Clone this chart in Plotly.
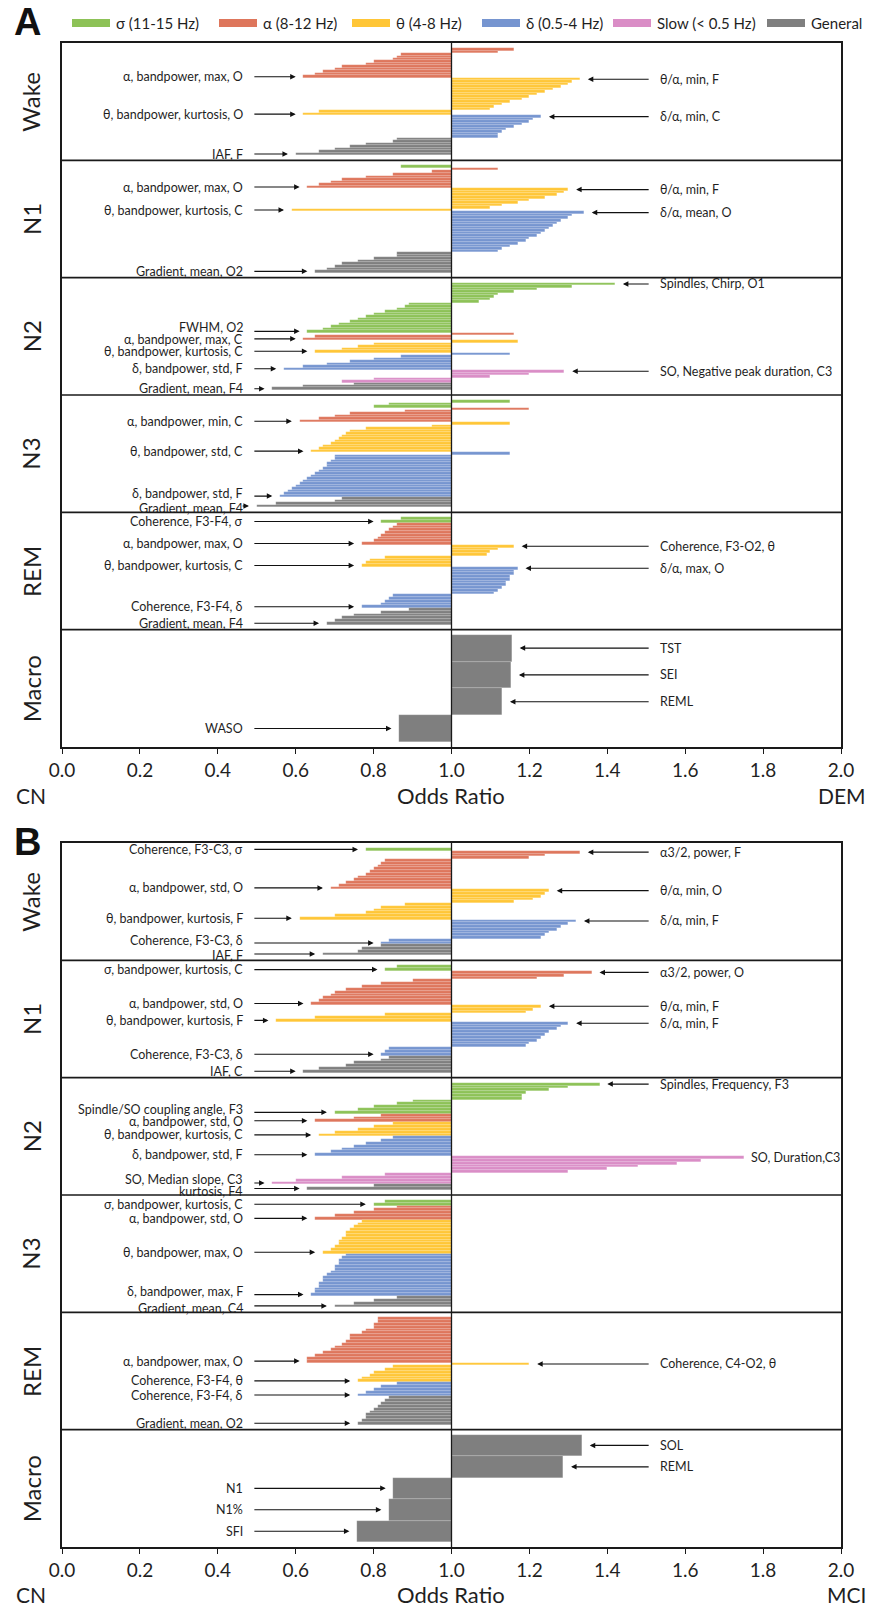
import plotly.graph_objects as go

# ---------------- categories / styling lists ----------------
SECTIONS = ["Wake", "N1", "N2", "N3", "REM", "Macro"]
BANDS = ["sigma", "alpha", "theta", "delta", "slow", "general"]
BAND_LABELS = ["σ (11-15 Hz)", "α (8-12 Hz)", "θ (4-8 Hz)", "δ (0.5-4 Hz)", "Slow (< 0.5 Hz)", "General"]
BAND_COLORS = ["#8DC257", "#DE765C", "#FFC637", "#7695D0", "#DA8DC6", "#7F7F7F"]
X_TICKS = [0.0, 0.2, 0.4, 0.6, 0.8, 1.0, 1.2, 1.4, 1.6, 1.8, 2.0]
X_TICK_TEXT = ["0.0", "0.2", "0.4", "0.6", "0.8", "1.0", "1.2", "1.4", "1.6", "1.8", "2.0"]

# ---------------- Panel A (CN vs DEM) odds ratios, top to bottom ----------------
A_wake_alpha = [1.16, 1.12, 0.87, 0.86, 0.85, 0.80, 0.78, 0.72, 0.70, 0.67, 0.65, 0.62]
A_wake_theta = [1.33, 1.31, 1.30, 1.28, 1.26, 1.24, 1.22, 1.20, 1.18, 1.15, 1.13, 1.11, 1.10, 0.66, 0.62]
A_wake_delta = [1.23, 1.21, 1.20, 1.18, 1.16, 1.14, 1.13, 1.12, 1.12]
A_wake_general = [0.86, 0.85, 0.78, 0.74, 0.70, 0.66, 0.60]

A_n1_sigma = [0.87]
A_n1_alpha = [1.12, 0.95, 0.85, 0.78, 0.72, 0.69, 0.66, 0.63]
A_n1_theta = [1.30, 1.29, 1.27, 1.24, 1.20, 1.17, 1.13, 1.10, 0.59]
A_n1_delta = [1.34, 1.31, 1.30, 1.28, 1.27, 1.26, 1.25, 1.24, 1.23, 1.22, 1.20, 1.19, 1.17, 1.15, 1.13, 1.12]
A_n1_general = [0.86, 0.86, 0.80, 0.76, 0.72, 0.70, 0.68, 0.65]

A_n2_sigma = [1.42, 1.31, 1.22, 1.16, 1.12, 1.11, 1.10, 1.07, 0.89, 0.88, 0.86, 0.83, 0.80, 0.78,
              0.76, 0.74, 0.71, 0.69, 0.67, 0.63]
A_n2_alpha = [1.16, 0.65, 0.62]
A_n2_theta = [1.17, 0.80, 0.76, 0.72, 0.65]
A_n2_delta = [1.15, 0.87, 0.80, 0.74, 0.68, 0.62, 0.57]
A_n2_slow = [1.29, 1.20, 1.10, 0.80, 0.72]
A_n2_general = [0.75, 0.62, 0.54]

A_n3_sigma = [1.15, 0.84, 0.80]
A_n3_alpha = [1.20, 0.88, 0.74, 0.70, 0.66, 0.61]
A_n3_theta = [1.15, 0.95, 0.78, 0.74, 0.73, 0.72, 0.71, 0.70, 0.69, 0.67, 0.66, 0.64]
A_n3_delta = [1.15, 0.70, 0.70, 0.69, 0.68, 0.68, 0.67, 0.66, 0.65, 0.64, 0.63, 0.62, 0.61, 0.60,
              0.59, 0.58, 0.57, 0.56]
A_n3_general = [0.72, 0.70, 0.55, 0.50]

A_rem_sigma = [0.87, 0.82]
A_rem_alpha = [0.86, 0.85, 0.84, 0.83, 0.82, 0.81, 0.80, 0.77]
A_rem_theta = [1.16, 1.12, 1.10, 1.09, 0.83, 0.79, 0.78, 0.77]
A_rem_delta = [1.17, 1.16, 1.16, 1.15, 1.15, 1.14, 1.14, 1.13, 1.12, 1.11, 0.85, 0.84, 0.83, 0.82, 0.77]
A_rem_general = [0.89, 0.82, 0.75, 0.72, 0.70, 0.68]

A_macro_names = ["TST", "SEI", "REML", "WASO"]
A_macro_general = [1.155, 1.153, 1.13, 0.866]

# ---------------- Panel B (CN vs MCI) ----------------
B_wake_sigma = [0.78]
B_wake_alpha = [1.33, 1.24, 1.20, 0.83, 0.82, 0.81, 0.80, 0.79, 0.78, 0.76, 0.75, 0.73, 0.71, 0.69]
B_wake_theta = [1.25, 1.24, 1.23, 1.21, 1.16, 0.88, 0.82, 0.80, 0.78, 0.70, 0.61]
B_wake_delta = [1.32, 1.30, 1.28, 1.27, 1.25, 1.24, 1.23, 0.84, 0.82]
B_wake_general = [0.82, 0.77, 0.76, 0.67]

B_n1_sigma = [0.86, 0.83]
B_n1_alpha = [1.36, 1.29, 1.22, 0.90, 0.82, 0.77, 0.73, 0.70, 0.69, 0.67, 0.66, 0.64]
B_n1_theta = [1.23, 1.21, 1.19, 0.83, 0.65, 0.55]
B_n1_delta = [1.30, 1.28, 1.27, 1.25, 1.24, 1.23, 1.22, 1.20, 1.19, 0.84, 0.83, 0.82]
B_n1_general = [0.84, 0.82, 0.75, 0.73, 0.66, 0.62]

B_n2_sigma = [1.38, 1.30, 1.25, 1.19, 1.18, 1.18, 0.90, 0.86, 0.80, 0.76, 0.70]
B_n2_alpha = [0.82, 0.75, 0.65]
B_n2_theta = [0.85, 0.80, 0.76, 0.70, 0.66]
B_n2_delta = [0.85, 0.82, 0.78, 0.75, 0.72, 0.69, 0.65]
B_n2_slow = [1.75, 1.64, 1.58, 1.48, 1.40, 1.30, 0.83, 0.72, 0.60, 0.54]
B_n2_general = [0.80, 0.63]

B_n3_sigma = [0.83, 0.80]
B_n3_alpha = [0.86, 0.80, 0.75, 0.70, 0.65]
B_n3_theta = [0.77, 0.76, 0.75, 0.74, 0.73, 0.73, 0.72, 0.71, 0.71, 0.70, 0.69, 0.67]
B_n3_delta = [0.73, 0.72, 0.71, 0.71, 0.70, 0.70, 0.69, 0.68, 0.67, 0.67, 0.66, 0.66, 0.65, 0.65, 0.64]
B_n3_general = [0.86, 0.80, 0.75, 0.70]

B_rem_alpha = [0.81, 0.81, 0.80, 0.80, 0.78, 0.77, 0.74, 0.74, 0.73, 0.72, 0.70, 0.69, 0.67, 0.65, 0.63, 0.63]
B_rem_theta = [1.20, 0.85, 0.83, 0.80, 0.79, 0.77, 0.76]
B_rem_delta = [0.86, 0.82, 0.80, 0.78, 0.76]
B_rem_general = [0.84, 0.83, 0.82, 0.81, 0.80, 0.79, 0.78, 0.78, 0.77, 0.76]

B_macro_names = ["SOL", "REML", "N1", "N1%", "SFI"]
B_macro_general = [1.335, 1.287, 0.851, 0.84, 0.758]

# ---------------- annotation labels: (section, band, row index, text) ----------------
A_LABELS = [
    ("Wake", "alpha", -1, "α, bandpower, max, O"), ("Wake", "theta", -1, "θ, bandpower, kurtosis, O"),
    ("Wake", "general", -1, "IAF, F"), ("Wake", "theta", 0, "θ/α, min, F"), ("Wake", "delta", 0, "δ/α, min, C"),
    ("N1", "alpha", -1, "α, bandpower, max, O"), ("N1", "theta", -1, "θ, bandpower, kurtosis, C"),
    ("N1", "general", -1, "Gradient, mean, O2"), ("N1", "theta", 0, "θ/α, min, F"), ("N1", "delta", 0, "δ/α, mean, O"),
    ("N2", "sigma", -1, "FWHM, O2"), ("N2", "alpha", -1, "α, bandpower, max, C"),
    ("N2", "theta", -1, "θ, bandpower, kurtosis, C"), ("N2", "delta", -1, "δ, bandpower, std, F"),
    ("N2", "general", -1, "Gradient, mean, F4"), ("N2", "sigma", 0, "Spindles, Chirp, O1"),
    ("N2", "slow", 0, "SO, Negative peak duration, C3"),
    ("N3", "alpha", -1, "α, bandpower, min, C"), ("N3", "theta", -1, "θ, bandpower, std, C"),
    ("N3", "delta", -1, "δ, bandpower, std, F"), ("N3", "general", -1, "Gradient, mean, F4"),
    ("REM", "sigma", -1, "Coherence, F3-F4, σ"), ("REM", "alpha", -1, "α, bandpower, max, O"),
    ("REM", "theta", -1, "θ, bandpower, kurtosis, C"), ("REM", "delta", -1, "Coherence, F3-F4, δ"),
    ("REM", "general", -1, "Gradient, mean, F4"), ("REM", "theta", 0, "Coherence, F3-O2, θ"),
    ("REM", "delta", 0, "δ/α, max, O"),
] + [("Macro", "general", i, n) for i, n in enumerate(A_macro_names)]

B_LABELS = [
    ("Wake", "sigma", -1, "Coherence, F3-C3, σ"), ("Wake", "alpha", -1, "α, bandpower, std, O"),
    ("Wake", "theta", -1, "θ, bandpower, kurtosis, F"), ("Wake", "delta", -1, "Coherence, F3-C3, δ"),
    ("Wake", "general", -1, "IAF, F"), ("Wake", "alpha", 0, "α3/2, power, F"),
    ("Wake", "theta", 0, "θ/α, min, O"), ("Wake", "delta", 0, "δ/α, min, F"),
    ("N1", "sigma", -1, "σ, bandpower, kurtosis, C"), ("N1", "alpha", -1, "α, bandpower, std, O"),
    ("N1", "theta", -1, "θ, bandpower, kurtosis, F"), ("N1", "delta", -1, "Coherence, F3-C3, δ"),
    ("N1", "general", -1, "IAF, C"), ("N1", "alpha", 0, "α3/2, power, O"),
    ("N1", "theta", 0, "θ/α, min, F"), ("N1", "delta", 0, "δ/α, min, F"),
    ("N2", "sigma", -1, "Spindle/SO coupling angle, F3"), ("N2", "alpha", -1, "α, bandpower, std, O"),
    ("N2", "theta", -1, "θ, bandpower, kurtosis, C"), ("N2", "delta", -1, "δ, bandpower, std, F"),
    ("N2", "slow", -1, "SO, Median slope, C3"), ("N2", "general", -1, "kurtosis, F4"),
    ("N2", "sigma", 0, "Spindles, Frequency, F3"), ("N2", "slow", 0, "SO, Duration,C3"),
    ("N3", "sigma", -1, "σ, bandpower, kurtosis, C"), ("N3", "alpha", -1, "α, bandpower, std, O"),
    ("N3", "theta", -1, "θ, bandpower, max, O"), ("N3", "delta", -1, "δ, bandpower, max, F"),
    ("N3", "general", -1, "Gradient, mean, C4"),
    ("REM", "alpha", -1, "α, bandpower, max, O"), ("REM", "theta", -1, "Coherence, F3-F4, θ"),
    ("REM", "delta", -1, "Coherence, F3-F4, δ"), ("REM", "general", -1, "Gradient, mean, O2"),
    ("REM", "theta", 0, "Coherence, C4-O2, θ"),
] + [("Macro", "general", i, n) for i, n in enumerate(B_macro_names)]
NO_ARROW = ["SO, Duration,C3"]

# small vertical nudges (px) for crowded label texts: (panel, section, text) -> shift
TEXT_SHIFT = {
    ("A", "N2", "FWHM, O2"): 4, ("A", "N2", "α, bandpower, max, C"): -1,
    ("A", "N3", "δ, bandpower, std, F"): 3, ("A", "N3", "Gradient, mean, F4"): -2,
    ("B", "N2", "Spindle/SO coupling angle, F3"): 3, ("B", "N2", "α, bandpower, std, O"): -1,
    ("B", "N2", "SO, Median slope, C3"): 3, ("B", "N2", "kurtosis, F4"): -3,
    ("B", "Wake", "Coherence, F3-C3, δ"): 2, ("B", "Wake", "IAF, F"): -2,
    ("B", "N3", "δ, bandpower, max, F"): 3, ("B", "N3", "Gradient, mean, C4"): -3,
}

A_DATA = {
    ("Wake", "alpha"): A_wake_alpha, ("Wake", "theta"): A_wake_theta, ("Wake", "delta"): A_wake_delta,
    ("Wake", "general"): A_wake_general,
    ("N1", "sigma"): A_n1_sigma, ("N1", "alpha"): A_n1_alpha, ("N1", "theta"): A_n1_theta,
    ("N1", "delta"): A_n1_delta, ("N1", "general"): A_n1_general,
    ("N2", "sigma"): A_n2_sigma, ("N2", "alpha"): A_n2_alpha, ("N2", "theta"): A_n2_theta,
    ("N2", "delta"): A_n2_delta, ("N2", "slow"): A_n2_slow, ("N2", "general"): A_n2_general,
    ("N3", "sigma"): A_n3_sigma, ("N3", "alpha"): A_n3_alpha, ("N3", "theta"): A_n3_theta,
    ("N3", "delta"): A_n3_delta, ("N3", "general"): A_n3_general,
    ("REM", "sigma"): A_rem_sigma, ("REM", "alpha"): A_rem_alpha, ("REM", "theta"): A_rem_theta,
    ("REM", "delta"): A_rem_delta, ("REM", "general"): A_rem_general,
    ("Macro", "general"): A_macro_general,
}
B_DATA = {
    ("Wake", "sigma"): B_wake_sigma, ("Wake", "alpha"): B_wake_alpha, ("Wake", "theta"): B_wake_theta,
    ("Wake", "delta"): B_wake_delta, ("Wake", "general"): B_wake_general,
    ("N1", "sigma"): B_n1_sigma, ("N1", "alpha"): B_n1_alpha, ("N1", "theta"): B_n1_theta,
    ("N1", "delta"): B_n1_delta, ("N1", "general"): B_n1_general,
    ("N2", "sigma"): B_n2_sigma, ("N2", "alpha"): B_n2_alpha, ("N2", "theta"): B_n2_theta,
    ("N2", "delta"): B_n2_delta, ("N2", "slow"): B_n2_slow, ("N2", "general"): B_n2_general,
    ("N3", "sigma"): B_n3_sigma, ("N3", "alpha"): B_n3_alpha, ("N3", "theta"): B_n3_theta,
    ("N3", "delta"): B_n3_delta, ("N3", "general"): B_n3_general,
    ("REM", "alpha"): B_rem_alpha, ("REM", "theta"): B_rem_theta, ("REM", "delta"): B_rem_delta,
    ("REM", "general"): B_rem_general,
    ("Macro", "general"): B_macro_general,
}

PANELS = [("A", A_DATA, A_LABELS, "DEM"), ("B", B_DATA, B_LABELS, "MCI")]

# ---------------- figure geometry ----------------
W, H = 869, 1608
ML, MR, MT, MB = 62, 28, 43, 61
FONT = "Lato, 'Open Sans', 'DejaVu Sans', sans-serif"
TXT = "#1f1f1f"


def px_x(x):
    return (x - ML) / (W - ML - MR)


def px_y(y):
    return (H - MB - y) / (H - MT - MB)


PANEL_DOMAINS = [[px_y(747), 1.0], [0.0, px_y(843)]]
PAD = 5.0 / 117.0

fig = go.Figure()
annotations = []
shapes = []

for pi, (letter, data, labels, right_name) in enumerate(PANELS):
    xa = "x" if pi == 0 else "x2"
    ya = "y" if pi == 0 else "y2"
    by = {b: [] for b in BANDS}
    bv = {b: [] for b in BANDS}
    bw = {b: [] for b in BANDS}
    lookup = {}
    for k, sec in enumerate(SECTIONS):
        rows = []
        for b in BANDS:
            for v in data.get((sec, b), []):
                rows.append((b, v))
        n = len(rows)
        h = (1 - 2 * PAD) / n
        for i, (b, v) in enumerate(rows):
            yc = k + PAD + (i + 0.5) * h
            by[b].append(yc)
            bv[b].append(v)
            bw[b].append(h)
            lookup.setdefault((sec, b), []).append((yc, v))
    for b, name, col in zip(BANDS, BAND_LABELS, BAND_COLORS):
        if not bv[b]:
            continue
        fig.add_trace(go.Bar(
            orientation="h", y=by[b], x=[v - 1.0 for v in bv[b]], base=[1.0] * len(bv[b]),
            width=bw[b], name=name, showlegend=False, xaxis=xa, yaxis=ya,
            marker=dict(color=col, line=dict(color="rgba(255,255,255,0.35)", width=0.4)),
        ))

    # labels with arrows
    for sec, b, idx, text in labels:
        yc, v = lookup[(sec, b)][idx]
        right = v > 1.0
        shift = TEXT_SHIFT.get((letter, sec, text), 0)
        if text in NO_ARROW:
            annotations.append(dict(x=v + 0.015, y=yc, xref=xa, yref=ya, text=text, showarrow=False,
                                    xanchor="left", yanchor="middle", yshift=shift,
                                    font=dict(size=12.5, family=FONT, color=TXT)))
            continue
        if right:
            tip = v + 0.02
            tail = max(1.51, tip + 0.02)
            tx, anchor = 1.53, "left"
        else:
            tip = v - 0.02
            tail = min(0.49, tip - 0.02)
            tx, anchor = 0.47, "right"
        annotations.append(dict(x=tip, y=yc, ax=tail, ay=yc, xref=xa, yref=ya, axref=xa, ayref=ya,
                                text="", showarrow=True, arrowhead=2, arrowsize=1.0, arrowwidth=1.1,
                                arrowcolor="#111111", standoff=0, startstandoff=0))
        annotations.append(dict(x=tx, y=yc, xref=xa, yref=ya, text=text, showarrow=False,
                                xanchor=anchor, yanchor="middle", yshift=shift,
                                font=dict(size=12.5, family=FONT, color=TXT)))

    # section separators and the OR = 1 line
    for k in range(1, len(SECTIONS)):
        shapes.append(dict(type="line", xref=xa, yref=ya, x0=0, x1=2, y0=k, y1=k,
                           line=dict(color="#1a1a1a", width=1.6), layer="above"))
    shapes.append(dict(type="line", xref=xa, yref=ya, x0=1, x1=1, y0=0, y1=len(SECTIONS),
                       line=dict(color="#1a1a1a", width=1.3), layer="above"))

    # section names
    for k, sec in enumerate(SECTIONS):
        annotations.append(dict(x=px_x(31), y=k + 0.5, xref="paper", yref=ya, text=sec, textangle=-90,
                                showarrow=False, xanchor="center", yanchor="middle",
                                font=dict(size=24, family=FONT, color=TXT)))

    # axis end labels
    y_lab = 795 if pi == 0 else 1594
    annotations.append(dict(x=px_x(31), y=px_y(y_lab), xref="paper", yref="paper", text="CN",
                            showarrow=False, xanchor="center", yanchor="middle",
                            font=dict(size=21, family=FONT, color=TXT)))
    annotations.append(dict(x=px_x(451), y=px_y(y_lab), xref="paper", yref="paper", text="Odds Ratio",
                            showarrow=False, xanchor="center", yanchor="middle",
                            font=dict(size=22, family=FONT, color=TXT)))
    annotations.append(dict(x=px_x(868), y=px_y(y_lab), xref="paper", yref="paper", text=right_name,
                            showarrow=False, xanchor="right", yanchor="middle",
                            font=dict(size=21, family=FONT, color=TXT)))
    # panel letter
    y_letter = 22 if pi == 0 else 842
    annotations.append(dict(x=px_x(27), y=px_y(y_letter), xref="paper", yref="paper",
                            text="<b>%s</b>" % letter, showarrow=False, xanchor="center", yanchor="middle",
                            font=dict(size=38, family="'Liberation Sans', Arial, sans-serif", color="#111111")))

# manual legend (wide swatches as in the reference)
LEG_SWATCH_X = [72, 219, 352, 482, 613, 767]
for sx, name, col in zip(LEG_SWATCH_X, BAND_LABELS, BAND_COLORS):
    shapes.append(dict(type="rect", xref="paper", yref="paper", x0=px_x(sx), x1=px_x(sx + 38),
                       y0=px_y(27), y1=px_y(19), fillcolor=col, line=dict(width=0)))
    annotations.append(dict(x=px_x(sx + 42), y=px_y(23), xref="paper", yref="paper", text=name,
                            showarrow=False, xanchor="left", yanchor="middle",
                            font=dict(size=15, family=FONT, color=TXT)))

axis_common = dict(range=[0, 2], tickvals=X_TICKS, ticktext=X_TICK_TEXT, ticks="outside", ticklen=5,
                   tickwidth=1.2, tickcolor="#1a1a1a", showline=True, linecolor="#1a1a1a", linewidth=1.6,
                   mirror=True, showgrid=False, zeroline=False,
                   tickfont=dict(size=19, family=FONT, color=TXT))
yaxis_common = dict(range=[len(SECTIONS), 0], showticklabels=False, ticks="", showline=True,
                    linecolor="#1a1a1a", linewidth=1.6, mirror=True, showgrid=False, zeroline=False)

fig.update_layout(
    width=W, height=H, autosize=False,
    margin=dict(l=ML, r=MR, t=MT, b=MB),
    paper_bgcolor="white", plot_bgcolor="white",
    barmode="overlay", bargap=0, showlegend=False,
    font=dict(family=FONT, color=TXT),
    xaxis=dict(domain=[0, 1], anchor="y", **axis_common),
    yaxis=dict(domain=PANEL_DOMAINS[0], anchor="x", **yaxis_common),
    xaxis2=dict(domain=[0, 1], anchor="y2", **axis_common),
    yaxis2=dict(domain=PANEL_DOMAINS[1], anchor="x2", **yaxis_common),
    annotations=annotations, shapes=shapes,
)

fig.write_html("out.html")
